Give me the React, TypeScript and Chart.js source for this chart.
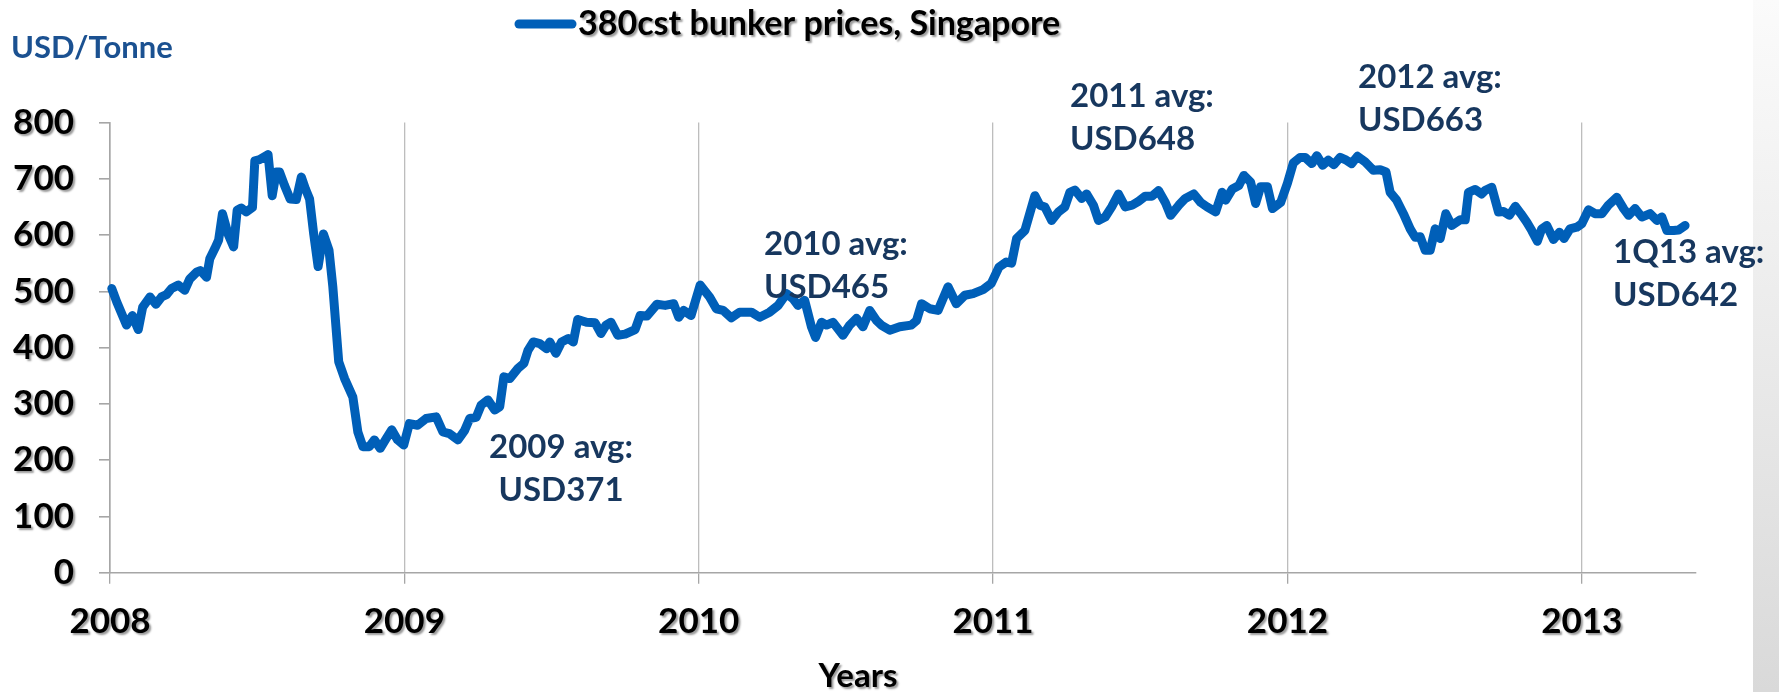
import React, { useEffect, useRef } from "react";
import { Chart, registerables } from "chart.js";

Chart.register(...registerables);

// Decimal-year positions of weekly-ish observations
const dates: number[] = [
  2008.006, 2008.023, 2008.056, 2008.076, 2008.096, 2008.111, 2008.136, 2008.156, 2008.175, 2008.192,
  2008.209, 2008.232, 2008.254, 2008.271, 2008.294, 2008.307, 2008.328, 2008.339, 2008.356, 2008.369,
  2008.382, 2008.401, 2008.42, 2008.432, 2008.446, 2008.463, 2008.484, 2008.492, 2008.508, 2008.537,
  2008.551, 2008.565, 2008.576, 2008.593, 2008.612, 2008.633, 2008.65, 2008.664, 2008.678, 2008.692,
  2008.707, 2008.725, 2008.744, 2008.757, 2008.777, 2008.797, 2008.825, 2008.842, 2008.859, 2008.881,
  2008.898, 2008.918, 2008.938, 2008.957, 2008.977, 2008.998,
  2009.017, 2009.045, 2009.074, 2009.108, 2009.131, 2009.153, 2009.182, 2009.205, 2009.222, 2009.244,
  2009.261, 2009.284, 2009.307, 2009.324, 2009.338, 2009.358, 2009.386, 2009.406, 2009.42, 2009.438,
  2009.46, 2009.483, 2009.494, 2009.515, 2009.534, 2009.557, 2009.574, 2009.589, 2009.619, 2009.648,
  2009.668, 2009.685, 2009.702, 2009.725, 2009.75, 2009.784, 2009.801, 2009.824, 2009.858, 2009.886,
  2009.915, 2009.932, 2009.949, 2009.974,
  2010.005, 2010.037, 2010.06, 2010.083, 2010.111, 2010.139, 2010.179, 2010.207, 2010.241, 2010.27,
  2010.298, 2010.32, 2010.337, 2010.36, 2010.383, 2010.397, 2010.417, 2010.434, 2010.456, 2010.49,
  2010.513, 2010.536, 2010.558, 2010.581, 2010.604, 2010.62, 2010.649, 2010.683, 2010.722, 2010.74,
  2010.757, 2010.785, 2010.813, 2010.847, 2010.875, 2010.904, 2010.932, 2010.966, 2010.994,
  2011.02, 2011.045, 2011.063, 2011.08, 2011.108, 2011.142, 2011.159, 2011.176, 2011.199, 2011.222,
  2011.244, 2011.261, 2011.278, 2011.301, 2011.318, 2011.341, 2011.358, 2011.381, 2011.403, 2011.426,
  2011.449, 2011.472, 2011.494, 2011.517, 2011.54, 2011.562, 2011.585, 2011.603, 2011.631, 2011.653,
  2011.682, 2011.705, 2011.727, 2011.756, 2011.778, 2011.79, 2011.813, 2011.835, 2011.852, 2011.875,
  2011.892, 2011.909, 2011.932, 2011.949, 2011.977,
  2012.0, 2012.02, 2012.043, 2012.06, 2012.083, 2012.1, 2012.12, 2012.139, 2012.158, 2012.179,
  2012.2, 2012.218, 2012.238, 2012.264, 2012.292, 2012.315, 2012.335, 2012.349, 2012.371, 2012.394,
  2012.417, 2012.434, 2012.451, 2012.468, 2012.485, 2012.502, 2012.519, 2012.538, 2012.558, 2012.587,
  2012.604, 2012.615, 2012.638, 2012.66, 2012.671, 2012.694, 2012.717, 2012.734, 2012.754, 2012.774,
  2012.793, 2012.813, 2012.83, 2012.849, 2012.864, 2012.881, 2012.904, 2012.924, 2012.94, 2012.96,
  2012.983,
  2013.0, 2013.023, 2013.045, 2013.068, 2013.09, 2013.119, 2013.142, 2013.159, 2013.181, 2013.204,
  2013.232, 2013.255, 2013.272, 2013.289, 2013.312, 2013.329, 2013.351,
];

// 380cst bunker prices, Singapore (USD/tonne)
const prices: number[] = [
  505, 481, 440, 457, 432, 472, 490, 477, 490, 494,
  505, 511, 502, 522, 534, 537, 525, 558, 576, 591,
  638, 602, 579, 644, 648, 641, 649, 732, 734, 743,
  670, 712, 712, 688, 664, 663, 703, 682, 664, 602,
  544, 602, 573, 508, 375, 345, 312, 250, 224, 224,
  236, 221, 238, 254, 236, 227,
  265, 262, 274, 277, 250, 247, 236, 253, 274, 276,
  298, 307, 289, 295, 348, 345, 363, 372, 395, 410,
  407, 398, 410, 390, 410, 416, 410, 450, 445, 444,
  425, 440, 445, 422, 424, 432, 457, 456, 477, 475,
  478, 454, 466, 457,
  511, 490, 469, 466, 453, 463, 463, 454, 463, 475,
  496, 487, 475, 484, 437, 418, 445, 440, 445, 422,
  440, 452, 437, 466, 448, 440, 431, 437, 440, 448,
  478, 469, 466, 508, 478, 493, 496, 503, 514,
  543, 552, 550, 594, 608, 670, 653, 650, 626, 641,
  650, 676, 680, 665, 673, 653, 626, 632, 650, 673,
  650, 653, 660, 669, 669, 679, 658, 635, 653, 665,
  673, 658, 650, 641, 676, 662, 682, 688, 706, 694,
  656, 686, 686, 647, 658,
  692, 728, 738, 738, 727, 741, 724, 733, 725, 738,
  733, 727, 740, 730, 715, 716, 712, 676, 662, 638,
  611, 596, 597, 573, 573, 611, 594, 638, 617, 627,
  627, 676, 681, 673, 679, 685, 641, 642, 635, 651,
  638, 623, 608, 589, 611, 617, 592, 605, 594, 611,
  614,
  620, 645, 638, 638, 653, 667, 647, 635, 647, 632,
  638, 626, 632, 608, 608, 609, 617,
];

const yearTicks: number[] = [2008, 2009, 2010, 2011, 2012, 2013];
const xMin = 2008;
const xMax = 2013.388;
const yMin = 0;
const yMax = 800;
const yStep = 100;

const seriesLabel = "380cst bunker prices, Singapore";
const yUnitLabel = "USD/Tonne";
const xTitle = "Years";

const avgLabels: string[][] = [
  ["2009 avg:", "USD371"],
  ["2010 avg:", "USD465"],
  ["2011 avg:", "USD648"],
  ["2012 avg:", "USD663"],
  ["1Q13 avg:", "USD642"],
];
// layout of annotation text blocks (pixels): x, first-line y, alignment
const avgPos: { x: number; y: number; align: CanvasTextAlign }[] = [
  { x: 561, y: 447, align: "center" },
  { x: 764, y: 244, align: "left" },
  { x: 1070, y: 96, align: "left" },
  { x: 1358, y: 77, align: "left" },
  { x: 1613, y: 252, align: "left" },
];

const FONT = "Lato, 'Noto Sans', 'DejaVu Sans', sans-serif";
const LINE_COLOR = "#005fb8";
const AVG_COLOR = "#17375e";
const AXIS_GRAY = "#a6a6a6";

const overlayPlugin = {
  id: "overlay",
  afterDatasetsDraw(chart: any) {
    const ctx = chart.ctx as CanvasRenderingContext2D;
    // shadow for the tick labels drawn after the datasets
    ctx.shadowColor = "rgba(0,0,0,0.4)";
    ctx.shadowOffsetX = 2;
    ctx.shadowOffsetY = 2;
    ctx.shadowBlur = 2;
  },
  afterDraw(chart: any) {
    const ctx = chart.ctx as CanvasRenderingContext2D;
    const noShadow = () => {
      ctx.shadowColor = "rgba(0,0,0,0)";
      ctx.shadowOffsetX = 0;
      ctx.shadowOffsetY = 0;
      ctx.shadowBlur = 0;
    };
    const shadow = () => {
      ctx.shadowColor = "rgba(0,0,0,0.4)";
      ctx.shadowOffsetX = 2;
      ctx.shadowOffsetY = 2;
      ctx.shadowBlur = 2;
    };
    ctx.save();
    noShadow();
    ctx.textBaseline = "middle";

    // Unit label
    ctx.fillStyle = "#1b5191";
    ctx.font = `bold 31px ${FONT}`;
    ctx.textAlign = "left";
    ctx.fillText(yUnitLabel, 11, 48);

    // Legend
    ctx.strokeStyle = LINE_COLOR;
    ctx.lineWidth = 9;
    ctx.lineCap = "round";
    ctx.beginPath();
    ctx.moveTo(519, 24);
    ctx.lineTo(572, 24);
    ctx.stroke();
    shadow();
    ctx.fillStyle = "#000";
    ctx.font = `bold 34px ${FONT}`;
    ctx.textAlign = "left";
    ctx.fillText(seriesLabel, 578, 24);

    // X axis title
    ctx.font = `bold 33px ${FONT}`;
    ctx.textAlign = "center";
    ctx.fillText(xTitle, 858, 676);
    noShadow();

    // Averages
    ctx.fillStyle = AVG_COLOR;
    ctx.font = `bold 33px ${FONT}`;
    avgLabels.forEach((lines, i) => {
      const p = avgPos[i];
      ctx.textAlign = p.align;
      lines.forEach((t, j) => ctx.fillText(t, p.x, p.y + j * 43));
    });
    ctx.restore();
  },
};

export default function App() {
  const canvasRef = useRef<HTMLCanvasElement | null>(null);

  useEffect(() => {
    if (!canvasRef.current) return;
    const chart = new Chart(canvasRef.current, {
      type: "line",
      data: {
        datasets: [
          {
            label: seriesLabel,
            data: dates.map((d, i) => ({ x: d, y: prices[i] })),
            borderColor: LINE_COLOR,
            backgroundColor: LINE_COLOR,
            borderWidth: 9,
            borderJoinStyle: "round",
            borderCapStyle: "round",
            pointRadius: 0,
            pointHoverRadius: 0,
            tension: 0,
            fill: false,
            clip: false as any,
          },
        ],
      },
      options: {
        animation: false,
        responsive: false,
        maintainAspectRatio: false,
        events: [],
        layout: { padding: { left: 0, right: 83, top: 122.5, bottom: 0 } },
        plugins: {
          legend: { display: false },
          title: { display: false },
          tooltip: { enabled: false },
        },
        scales: {
          x: {
            type: "linear",
            min: xMin,
            max: xMax,
            afterBuildTicks: (s: any) => {
              s.ticks = yearTicks.map((v) => ({ value: v }));
            },
            afterFit: (s: any) => {
              s.height = 119.3;
            },
            ticks: {
              autoSkip: false,
              maxRotation: 0,
              padding: 17,
              z: 1,
              color: "#000",
              font: { family: FONT, size: 35, weight: "bold" },
              callback: (v: any) => String(v),
            },
            grid: {
              color: "#bdbdbd",
              lineWidth: 1.3,
              drawTicks: true,
              tickLength: 11,
              tickColor: AXIS_GRAY,
            },
            border: { display: true, color: AXIS_GRAY, width: 1.6 },
          },
          y: {
            type: "linear",
            min: yMin,
            max: yMax,
            afterFit: (s: any) => {
              s.width = 110;
            },
            ticks: {
              stepSize: yStep,
              padding: 25,
              z: 1,
              color: "#000",
              font: { family: FONT, size: 35, weight: "bold" },
            },
            grid: {
              drawOnChartArea: false,
              drawTicks: true,
              tickLength: 11,
              color: AXIS_GRAY,
              lineWidth: 1.6,
            },
            border: { display: true, color: AXIS_GRAY, width: 1.6 },
          },
        },
      } as any,
      plugins: [overlayPlugin],
    });
    return () => chart.destroy();
  }, []);

  return (
    <div style={{ position: "fixed", left: 0, top: 0, width: 1779, height: 692, background: "#fff" }}>
      <div
        style={{
          position: "absolute",
          left: 1753,
          top: 0,
          width: 26,
          height: 692,
          background: "linear-gradient(to bottom, #fbfbfb 0%, #ececec 45%, #d9d9d9 100%)",
        }}
      />
      <canvas
        ref={canvasRef}
        width={1779}
        height={692}
        style={{ position: "absolute", left: 0, top: 0, width: 1779, height: 692, display: "block" }}
      />
    </div>
  );
}
